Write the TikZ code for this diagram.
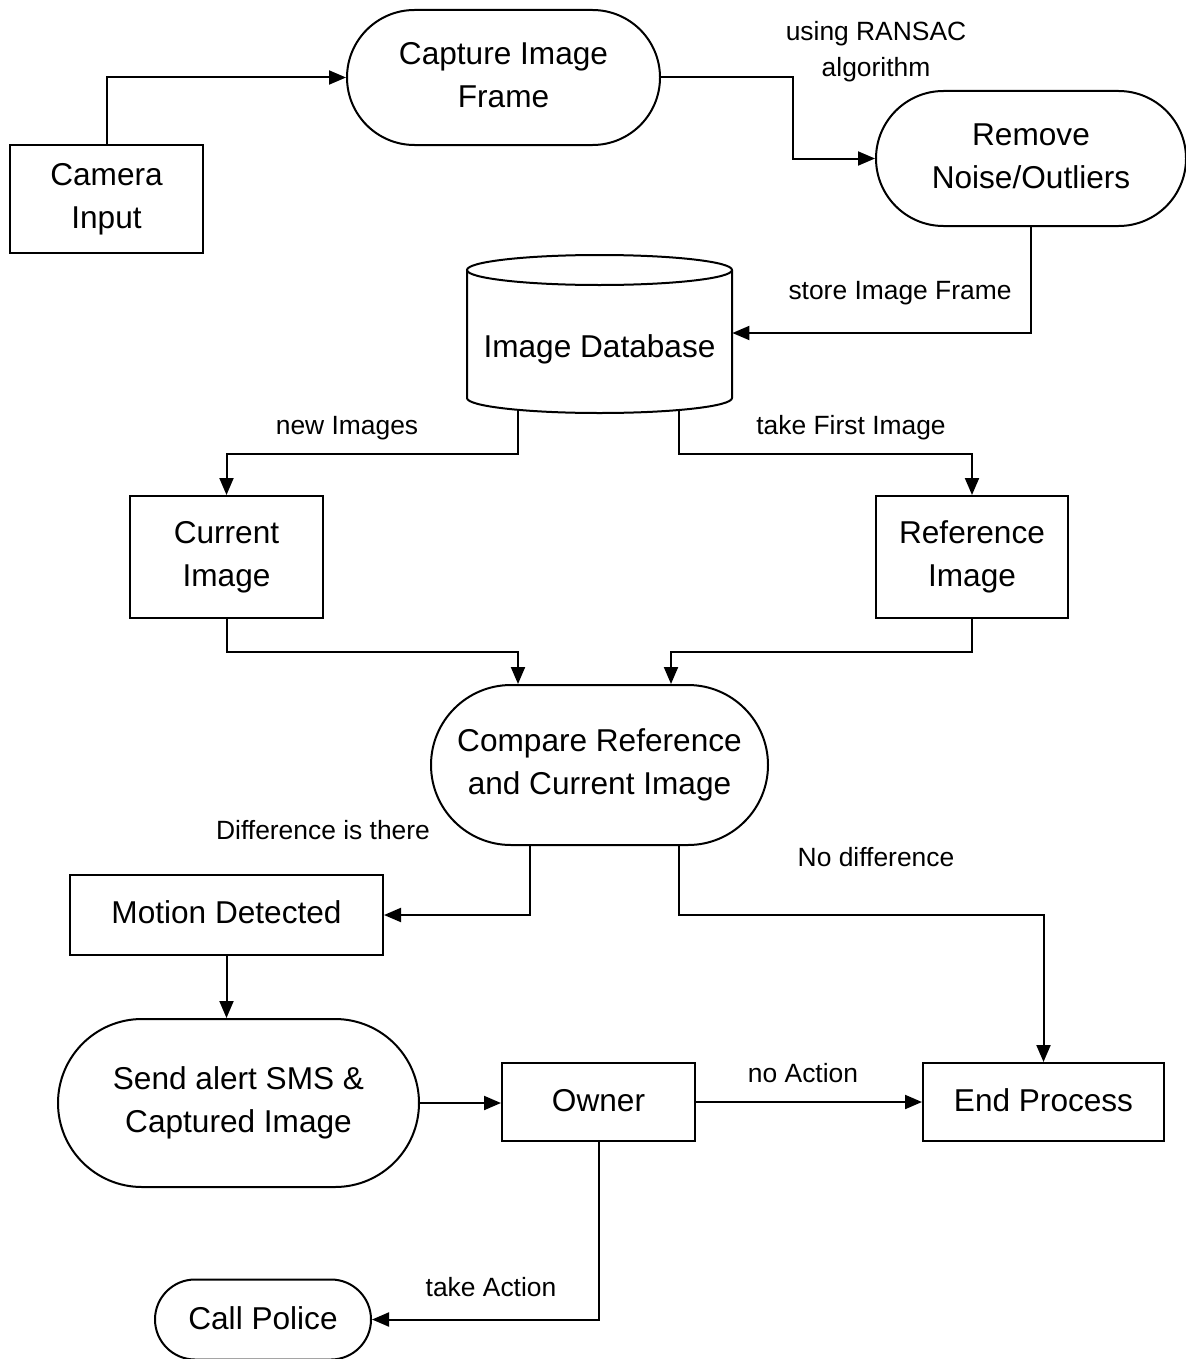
\documentclass[tikz,border=0pt]{standalone}
\usepackage{fontspec}
\setmainfont{Liberation Sans}
\usepackage{tikz}
\usetikzlibrary{calc,arrows.meta,positioning,shapes.misc}
\definecolor{inkx}{HTML}{000000}
\tikzset{
  ar/.style={-{Triangle[length=8.5pt,width=7pt]},line width=1pt,inkx},
  box/.style={draw=inkx,line width=1pt,align=center,inner sep=0pt,font=\fontsize{15.8pt}{21.5pt}\selectfont},
  pill/.style={box,rounded rectangle},
  dbbox/.style={inner sep=0pt,minimum width=132.5pt,minimum height=79pt,font=\fontsize{15.8pt}{21.5pt}\selectfont},
  lbl/.style={align=center,inner sep=1pt,font=\fontsize{13.2pt}{18pt}\selectfont}
}
\newcommand{\uptwo}[2]{\raisebox{2pt}{\begin{tabular}{@{}c@{}}#1\\#2\end{tabular}}}
\begin{document}
\begin{tikzpicture}[x=0.5pt,y=-0.5pt]
\useasboundingbox (0,0) rectangle (1186,1359);
% nodes
\node[box,minimum width=96.5pt,minimum height=54pt] (cam) at (106.5,199) {Camera\\Input};
\node[pill,minimum width=156.5pt,minimum height=67.5pt] (cap) at (503.5,77.5) {\uptwo{Capture Image}{Frame}};
\node[pill,minimum width=155pt,minimum height=67.5pt] (rem) at (1031,158.5) {\uptwo{Remove}{Noise/Outliers}};
\node[dbbox] (db) at (599.5,334) {\raisebox{-11.5pt}[0pt][0pt]{Image Database}};
\draw[line width=1pt,inkx] (599.5,270) ellipse [x radius=66.25pt,y radius=7.5pt];
\draw[line width=1pt,inkx] (467,270) -- (467,398) arc[start angle=180,end angle=360,x radius=66.25pt,y radius=7.5pt] -- (732,270);
\node[box,minimum width=96.5pt,minimum height=61pt] (cur) at (226.5,557) {Current\\Image};
\node[box,minimum width=96pt,minimum height=61pt] (ref) at (972,557) {Reference\\Image};
\node[pill,minimum width=168.5pt,minimum height=80pt] (cmp) at (599.5,765) {Compare Reference\\and Current Image};
\node[box,minimum width=156.5pt,minimum height=40pt] (mot) at (226.5,915) {\raisebox{2.5pt}{Motion Detected}};
\node[pill,minimum width=180.5pt,minimum height=84pt] (snd) at (238.5,1103) {Send alert SMS \&\\Captured Image};
\node[box,minimum width=96.5pt,minimum height=39pt] (own) at (598.5,1102) {\raisebox{1.5pt}{Owner}};
\node[box,minimum width=120.5pt,minimum height=39pt] (end) at (1043.5,1102) {\raisebox{1.5pt}{End Process}};
\node[pill,minimum width=108pt,minimum height=40pt] (pol) at (263,1319.5) {\raisebox{1.5pt}{Call Police}};
% connectors
\draw[ar] (cam.north) |- (cap.west);
\draw[ar] (cap.east) -- ++(132,0) |- (rem.west);
\draw[ar] (rem.south) |- ($(db.east)+(0,-1)$);
\draw[ar] ($(db.south)+(-81.5,-3)$) -- ++(0,44) -| (cur.north);
\draw[ar] ($(db.south)+(79.5,-3)$) -- ++(0,44) -| (ref.north);
\draw[ar] (cur.south) -- ++(0,33) -| ($(cmp.north)+(-81.5,0)$);
\draw[ar] (ref.south) -- ++(0,33) -| ($(cmp.north)+(71.5,0)$);
\draw[ar] ($(cmp.south)+(-69.5,0)$) |- (mot.east);
\draw[ar] ($(cmp.south)+(79.5,0)$) -- ++(0,69) -| (end.north);
\draw[ar] (mot.south) -- (mot.south |- snd.north);
\draw[ar] (snd.east) -- (snd.east -| own.west);
\draw[ar] (own.east) -- (end.west);
\draw[ar] (own.south) |- (pol.east);
% labels
\node[lbl] (lransac) at (876,52) {using RANSAC\\algorithm};
\node[lbl] (lstore) at (900,293) {store Image Frame};
\node[lbl] (lnew) at (347,428) {new Images};
\node[lbl] (lfirst) at (851,428) {take First Image};
\node[lbl] (ldiff) at (323,830) {Difference is there};
\node[lbl] (lnodiff) at (876,857) {No difference};
\node[lbl] (lnoact) at (803,1073) {no Action};
\node[lbl] (ltake) at (491,1287) {take Action};
\end{tikzpicture}
\end{document}
